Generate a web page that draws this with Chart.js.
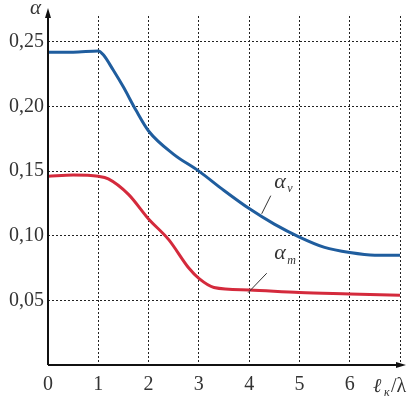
<!DOCTYPE html>
<html>
<head>
<meta charset="utf-8">
<script src="https://cdn.jsdelivr.net/npm/chart.js@4"></script>
<style>
  body { margin: 0; background: #fff; }
  #wrap { width: 417px; height: 400px; }
</style>
</head>
<body>
<div id="wrap"><canvas id="chart"></canvas></div>
<script>
const xValues = [0, 0.5, 1, 1.1, 1.3, 1.5, 1.75, 2, 2.5, 3, 3.5, 4, 4.5, 5, 5.5, 6, 6.5, 7];
const alphaV = [0.242, 0.242, 0.243, 0.240, 0.228, 0.215, 0.197, 0.181, 0.163, 0.150, 0.135, 0.121, 0.109, 0.099, 0.091, 0.087, 0.085, 0.085];
const xValuesM = [0, 0.5, 1, 1.2, 1.6, 2, 2.4, 2.8, 3, 3.3, 4, 5, 6, 7];
const alphaM = [0.146, 0.147, 0.146, 0.144, 0.132, 0.113, 0.097, 0.075, 0.067, 0.060, 0.058, 0.056, 0.055, 0.054];
const yTicks = [0, 0.05, 0.10, 0.15, 0.20, 0.25];
const xTicks = [0, 1, 2, 3, 4, 5, 6, 7];

const serif = "Liberation Serif, Times New Roman, DejaVu Serif, serif";
const textColor = "#333";

const annotations = {
    id: "annotations",
    afterDraw(chart) {
        const ctx = chart.ctx;
        const x = chart.scales.x, y = chart.scales.y;
        const area = chart.chartArea;
        ctx.save();
        // axes with arrows
        ctx.strokeStyle = "#111";
        ctx.fillStyle = "#111";
        ctx.lineWidth = 2;
        ctx.beginPath();
        ctx.moveTo(area.left, area.bottom);
        ctx.lineTo(area.left, area.top - 3);
        ctx.moveTo(area.left, area.bottom);
        ctx.lineTo(area.right - 2, area.bottom);
        ctx.stroke();
        ctx.beginPath();
        ctx.moveTo(area.left, area.top - 8);
        ctx.lineTo(area.left - 3, area.top + 2);
        ctx.lineTo(area.left + 3, area.top + 2);
        ctx.fill();
        ctx.beginPath();
        ctx.moveTo(area.right + 6, area.bottom);
        ctx.lineTo(area.right - 4, area.bottom - 3);
        ctx.lineTo(area.right - 4, area.bottom + 3);
        ctx.fill();

        ctx.fillStyle = textColor;
        ctx.textBaseline = "alphabetic";
        // axis titles
        ctx.font = "italic 21px " + serif;
        ctx.fillText("α", 30, 14);
        ctx.font = "italic 20px " + serif;
        ctx.fillText("ℓ", 373, 392);
        ctx.font = "italic 12px " + serif;
        ctx.fillText("к", 384, 396);
        ctx.font = "20px " + serif;
        ctx.fillText("/λ", 391, 392);

        // series labels
        ctx.font = "italic 22px " + serif;
        ctx.fillText("α", x.getPixelForValue(4.5), y.getPixelForValue(0.137));
        ctx.fillText("α", x.getPixelForValue(4.5), y.getPixelForValue(0.082));
        ctx.font = "italic 12px " + serif;
        ctx.fillText("ν", x.getPixelForValue(4.5) + 13, y.getPixelForValue(0.134));
        ctx.fillText("m", x.getPixelForValue(4.5) + 13, y.getPixelForValue(0.078));

        ctx.strokeStyle = "#333";
        ctx.lineWidth = 1;
        ctx.beginPath();
        ctx.moveTo(x.getPixelForValue(4.25), y.getPixelForValue(0.117));
        ctx.lineTo(x.getPixelForValue(4.43), y.getPixelForValue(0.131));
        ctx.moveTo(x.getPixelForValue(3.98), y.getPixelForValue(0.056));
        ctx.lineTo(x.getPixelForValue(4.35), y.getPixelForValue(0.071));
        ctx.stroke();
        ctx.restore();
    }
};

new Chart(document.getElementById("chart"), {
    type: "scatter",
    data: {
        datasets: [
            {
                label: "αν",
                data: xValues.map((v, i) => ({ x: v, y: alphaV[i] })),
                showLine: true,
                borderColor: "#1f5d9e",
                borderWidth: 3,
                pointRadius: 0,
                cubicInterpolationMode: "monotone"
            },
            {
                label: "αm",
                data: xValuesM.map((v, i) => ({ x: v, y: alphaM[i] })),
                showLine: true,
                borderColor: "#d42a3c",
                borderWidth: 3,
                pointRadius: 0,
                cubicInterpolationMode: "monotone"
            }
        ]
    },
    options: {
        responsive: true,
        maintainAspectRatio: false,
        animation: false,
        layout: { padding: { top: 15, right: 17, left: 0, bottom: 0 } },
        plugins: { legend: { display: false }, tooltip: { enabled: false } },
        scales: {
            x: {
                type: "linear",
                min: 0,
                max: 7,
                afterBuildTicks: s => { s.ticks = xTicks.map(v => ({ value: v })); },
                afterFit: s => { s.height = 35; },
                grid: { color: "#222", lineWidth: 1, drawTicks: false },
                border: { display: false, dash: [2, 2] },
                ticks: {
                    color: textColor,
                    padding: 8,
                    font: { family: serif, size: 20 },
                    callback: v => (v === 7 ? "" : String(v))
                }
            },
            y: {
                min: 0,
                max: 0.27,
                afterBuildTicks: s => { s.ticks = yTicks.map(v => ({ value: v })); },
                afterFit: s => { s.width = 48; },
                grid: { color: "#222", lineWidth: 1, drawTicks: false },
                border: { display: false, dash: [2, 2] },
                ticks: {
                    color: textColor,
                    padding: 4,
                    font: { family: serif, size: 20 },
                    callback: v => (v === 0 ? "" : v.toFixed(2).replace(".", ","))
                }
            }
        }
    },
    plugins: [annotations]
});
</script>
</body>
</html>
